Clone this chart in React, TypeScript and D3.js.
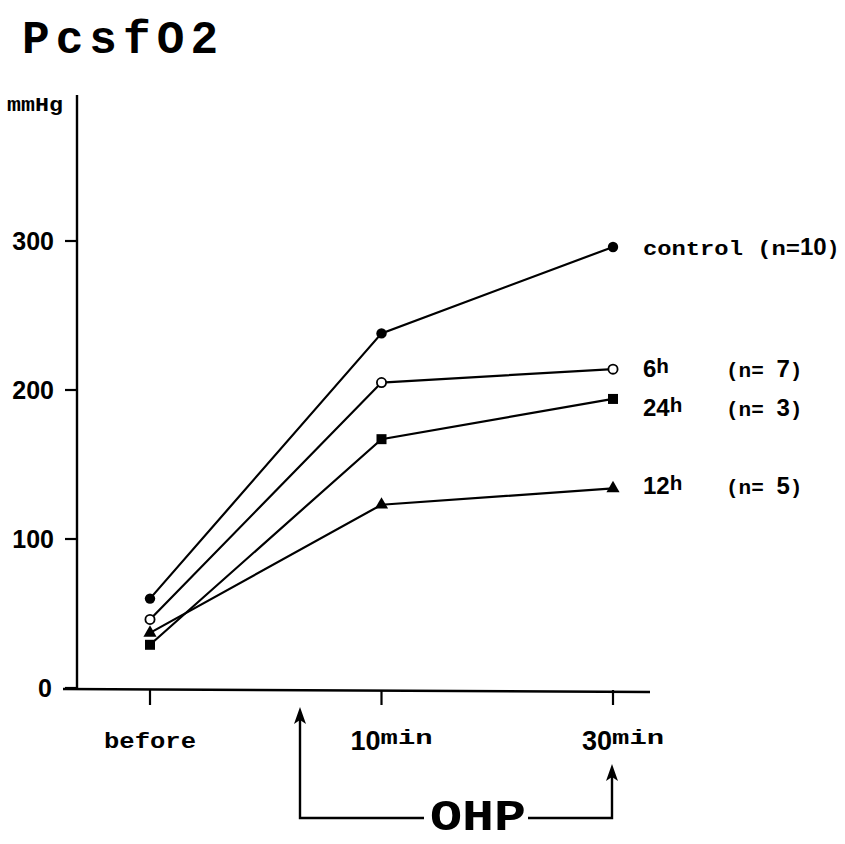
import React from "react";
import * as d3 from "d3";

const categories = ["before", "10min", "30min"];
const seriesNames = ["control", "6h", "24h", "12h"];
const controlValues = [60, 238, 296];
const h6Values = [46, 205, 214];
const h24Values = [29, 167, 194];
const h12Values = [37, 123, 134];
const yTicks = [0, 100, 200, 300];

const W = 845;
const H = 844;
const MONO = "'Liberation Mono', 'DejaVu Sans Mono', monospace";
const SANS = "'Liberation Sans', Arial, sans-serif";

export default function App() {
  const x = d3.scalePoint<string>().domain(categories).range([150, 613]);
  const y = d3.scaleLinear().domain([0, 300]).range([688, 241]);
  const line = d3
    .line<number>()
    .x((_, i) => x(categories[i]) as number)
    .y((d) => y(d));

  const series = [
    { name: seriesNames[0], values: controlValues, marker: "dot" },
    { name: seriesNames[1], values: h6Values, marker: "open" },
    { name: seriesNames[2], values: h24Values, marker: "square" },
    { name: seriesNames[3], values: h12Values, marker: "tri" },
  ];

  const marker = (m: string, cx: number, cy: number, key: string) => {
    if (m === "dot") return <circle key={key} cx={cx} cy={cy} r={5.2} fill="#000" />;
    if (m === "open")
      return <circle key={key} cx={cx} cy={cy} r={4.6} fill="#fff" stroke="#000" strokeWidth={1.8} />;
    if (m === "square") return <rect key={key} x={cx - 5} y={cy - 5} width={10} height={10} fill="#000" />;
    return (
      <path key={key} d={d3.symbol(d3.symbolTriangle, 75)() as string} transform={`translate(${cx},${cy})`} fill="#000" />
    );
  };

  const arrowHead = (ax: number, ay: number) =>
    `M${ax},${ay} L${ax - 6},${ay + 17} L${ax},${ay + 13} L${ax + 6},${ay + 17} Z`;

  const legendX = 643;
  const nX = 726;
  const fs = 21;
  const bracketY = 818;

  return (
    <svg width={W} height={H} style={{ position: "absolute", left: 0, top: 0, background: "#fff" }}>
      <rect x={0} y={0} width={W} height={H} fill="#fff" />
      {/* Title */}
      <text x={22} y={53} fontFamily={MONO} fontWeight="bold" fontSize={46} textLength={196} lengthAdjust="spacing" fill="#000">
        PcsfO2
      </text>
      {/* Y axis */}
      <text x={7} y={111} fontFamily={MONO} fontWeight="bold" fontSize={21} textLength={56} lengthAdjust="spacingAndGlyphs">
        mmHg
      </text>
      <line x1={77} x2={77} y1={y(0)} y2={95} stroke="#000" strokeWidth={2.4} />
      {yTicks.map((t) => (
        <g key={t}>
          <line x1={65} x2={77} y1={y(t)} y2={y(t)} stroke="#000" strokeWidth={2.2} />
          <text x={t === 0 ? 52 : 54} y={y(t) + 9} textAnchor="end" fontFamily={SANS} fontWeight="bold" fontSize={25}>
            {t}
          </text>
        </g>
      ))}
      {/* X axis */}
      <line x1={63} x2={650} y1={689} y2={692} stroke="#000" strokeWidth={2.4} />
      {categories.map((c) => (
        <line key={c} x1={x(c)} x2={x(c)} y1={690} y2={705} stroke="#000" strokeWidth={2.2} />
      ))}
      <text x={x("before")} y={748} textAnchor="middle" fontFamily={MONO} fontWeight="bold" fontSize={22} textLength={92} lengthAdjust="spacingAndGlyphs">
        before
      </text>
      {["10min", "30min"].map((c) => (
        <text key={c} x={(x(c) as number) - 31} y={750}>
          <tspan fontFamily={SANS} fontWeight="bold" fontSize={27}>{c.slice(0, 2)}</tspan>
          <tspan fontFamily={MONO} fontWeight="bold" fontSize={21} dy={-6} textLength={52} lengthAdjust="spacingAndGlyphs">{c.slice(2)}</tspan>
        </text>
      ))}
      {/* Lines */}
      {series.map((s) => (
        <path key={s.name} d={line(s.values) as string} fill="none" stroke="#000" strokeWidth={2.2} />
      ))}
      {series.map((s) =>
        s.values.map((v, i) => marker(s.marker, x(categories[i]) as number, y(v), `${s.name}-${i}`))
      )}
      {/* Labels */}
      <text x={legendX} y={y(controlValues[2]) + 8}>
        <tspan fontFamily={MONO} fontWeight="bold" fontSize={fs} textLength={157} lengthAdjust="spacingAndGlyphs">control (n=</tspan>
        <tspan fontFamily={SANS} fontWeight="bold" fontSize={24}>10</tspan>
        <tspan fontFamily={MONO} fontWeight="bold" fontSize={fs}>)</tspan>
      </text>
      {[
        { v: h6Values[2], lab: "6h", n: "7", dy: 8 },
        { v: h24Values[2], lab: "24h", n: "3", dy: 17 },
        { v: h12Values[2], lab: "12h", n: "5", dy: 6 },
      ].map((d) => (
        <g key={d.lab}>
          <text x={legendX} y={y(d.v) + d.dy}>
            <tspan fontFamily={SANS} fontWeight="bold" fontSize={24}>{d.lab.slice(0, -1)}</tspan>
            <tspan fontFamily={MONO} fontWeight="bold" fontSize={fs} dy={-4}>h</tspan>
          </text>
          <text x={nX} y={y(d.v) + d.dy}>
            <tspan fontFamily={MONO} fontWeight="bold" fontSize={fs}>(n= </tspan>
            <tspan fontFamily={SANS} fontWeight="bold" fontSize={24}>{d.n}</tspan>
            <tspan fontFamily={MONO} fontWeight="bold" fontSize={fs}>)</tspan>
          </text>
        </g>
      ))}
      {/* OHP bracket */}
      <polyline points={`300,718 300,${bracketY} 424,${bracketY}`} fill="none" stroke="#000" strokeWidth={2.4} />
      <path d={arrowHead(300, 707)} fill="#000" />
      <polyline points={`528,${bracketY} 612,${bracketY} 612,775`} fill="none" stroke="#000" strokeWidth={2.4} />
      <path d={arrowHead(612, 764)} fill="#000" />
      <text x={430} y={830} fontFamily={MONO} fontWeight="bold" fontSize={44} textLength={96} lengthAdjust="spacingAndGlyphs">
        OHP
      </text>
    </svg>
  );
}
